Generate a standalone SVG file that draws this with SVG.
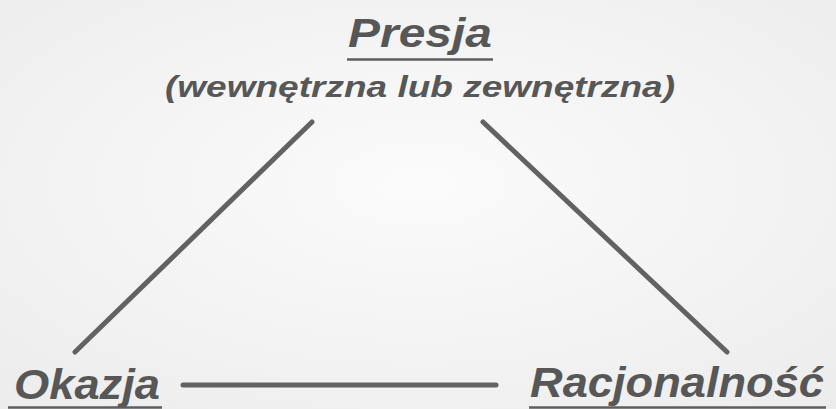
<svg xmlns="http://www.w3.org/2000/svg" width="836" height="409" viewBox="0 0 836 409">
<defs>
<radialGradient id="bg" cx="50%" cy="45%" r="75%">
<stop offset="0" stop-color="#fbfbfb"/>
<stop offset="1" stop-color="#ececec"/>
</radialGradient>
<style>
.t{font-family:"Liberation Sans",Arial,sans-serif;font-weight:bold;font-style:italic;fill:#575757}
.u{stroke:#5e5e5e;stroke-width:2.5}
.c{stroke:#626262;stroke-width:5;stroke-linecap:round;fill:none}
</style>
</defs>
<rect width="836" height="409" fill="url(#bg)"/>
<g id="connectors">
<line class="c" x1="312" y1="122" x2="75" y2="352"/>
<line class="c" x1="483" y1="122" x2="727" y2="352"/>
<line class="c" x1="183" y1="385" x2="496" y2="385"/>
</g>
<g id="presja">
<text class="t" x="348" y="47" font-size="40" textLength="144" lengthAdjust="spacingAndGlyphs">Presja</text>
<line class="u" x1="347" y1="59.5" x2="493" y2="59.5"/>
<text class="t" x="165" y="97" font-size="30" textLength="510" lengthAdjust="spacingAndGlyphs">(wewnętrzna lub zewnętrzna)</text>
</g>
<g id="okazja">
<text class="t" x="14" y="399" font-size="42" textLength="146" lengthAdjust="spacingAndGlyphs">Okazja</text>
<line class="u" x1="8" y1="407.5" x2="162" y2="407.5"/>
</g>
<g id="racjonalnosc">
<text class="t" x="530" y="397" font-size="42" textLength="294" lengthAdjust="spacingAndGlyphs">Racjonalność</text>
<line class="u" x1="529" y1="407.5" x2="826" y2="407.5"/>
</g>
</svg>
